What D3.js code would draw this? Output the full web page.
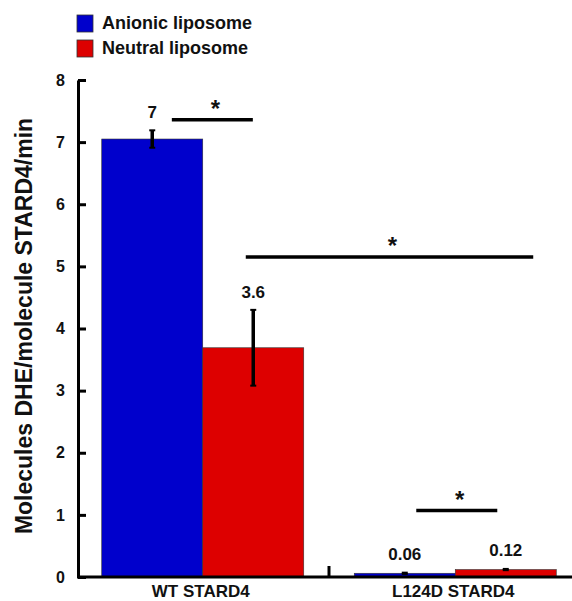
<!DOCTYPE html>
<html>
<head>
<meta charset="utf-8">
<script src="https://cdnjs.cloudflare.com/ajax/libs/d3/7.8.5/d3.min.js"></script>
<style>
  body { margin: 0; background: #fff; }
  svg { display: block; font-family: "Liberation Sans", Arial, sans-serif; font-weight: bold; }
</style>
</head>
<body>
<svg class="viz"></svg>
<script>
var width = 572,
  height = 601;

// data
var groups = ["WT STARD4", "L124D STARD4"];
var series = ["Anionic liposome", "Neutral liposome"];
var colors = ["#0000cc", "#dd0000"];
var means = [[7.05, 3.69], [0.06, 0.12]];
var errors = [[0.14, 0.61], [0.01, 0.01]];
var valueLabels = [["7", "3.6"], ["0.06", "0.12"]];
var yTicks = [0, 1, 2, 3, 4, 5, 6, 7, 8];

// significance brackets: group + fraction of group band for each end, height in data units
var sigBars = [
  { g1: 0, f1: 0.347, g2: 0, f2: 0.748, v: 7.36 },
  { g1: 0, f1: 0.713, g2: 1, f2: 0.886, v: 5.15 },
  { g1: 1, f1: 0.307, g2: 1, f2: 0.708, v: 1.07 }
];

var viz = d3.select(".viz")
  .attr("width", width)
  .attr("height", height);

var y = d3.scaleLinear().domain([0, 8]).range([577, 80]);

var x = d3.scaleBand()
  .domain(groups)
  .range([78, 580])
  .paddingInner(0.2)
  .paddingOuter(0.094);

var xs = d3.scaleBand()
  .domain(series)
  .range([0, x.bandwidth()]);

function xAt(g, f) {
  return x(groups[g]) + f * x.bandwidth();
}

// bars
var gGroups = viz.selectAll("g.group")
  .data(groups)
  .enter()
  .append("g")
  .attr("class", "group")
  .attr("transform", function(d) {
    return "translate(" + x(d) + ",0)";
  });

gGroups.each(function(gname, gi) {
  var grp = d3.select(this);
  var rows = series.map(function(s, si) {
    return { s: s, si: si, m: means[gi][si], e: errors[gi][si], lab: valueLabels[gi][si] };
  });

  grp.selectAll("rect")
    .data(rows)
    .enter()
    .append("rect")
    .attr("x", d => xs(d.s))
    .attr("width", xs.bandwidth())
    .attr("y", d => y(d.m))
    .attr("height", d => y(0) - y(d.m))
    .attr("fill", d => colors[d.si])
    .attr("stroke", "#333")
    .attr("stroke-width", 0.6);

  // error bars
  var eb = grp.selectAll("g.err")
    .data(rows)
    .enter()
    .append("g")
    .attr("class", "err")
    .attr("transform", d => "translate(" + (xs(d.s) + xs.bandwidth() / 2) + ",0)");
  eb.append("line")
    .attr("y1", d => y(d.m + d.e))
    .attr("y2", d => y(d.m - d.e))
    .attr("stroke", "#000")
    .attr("stroke-width", 3.5);
  eb.selectAll("line.cap")
    .data(d => [d.m + d.e, d.m - d.e])
    .enter()
    .append("line")
    .attr("class", "cap")
    .attr("x1", -3)
    .attr("x2", 3)
    .attr("y1", v => y(v))
    .attr("y2", v => y(v))
    .attr("stroke", "#000")
    .attr("stroke-width", 2);

  grp.selectAll("text.val")
    .data(rows)
    .enter()
    .append("text")
    .attr("class", "val")
    .attr("x", d => xs(d.s) + xs.bandwidth() / 2)
    .attr("y", d => y(d.m + d.e) - (d.m > 1 ? 12 : 13))
    .attr("text-anchor", "middle")
    .attr("font-size", 17)
    .attr("fill", "#111")
    .text(d => d.lab);
});

// significance lines
viz.selectAll("line.sig")
  .data(sigBars)
  .enter()
  .append("line")
  .attr("class", "sig")
  .attr("x1", d => xAt(d.g1, d.f1))
  .attr("x2", d => xAt(d.g2, d.f2))
  .attr("y1", d => y(d.v))
  .attr("y2", d => y(d.v))
  .attr("stroke", "#000")
  .attr("stroke-width", 3.5);

viz.selectAll("text.star")
  .data(sigBars)
  .enter()
  .append("text")
  .attr("class", "star")
  .attr("x", d => (xAt(d.g1, d.f1) + xAt(d.g2, d.f2)) / 2 + 3)
  .attr("y", d => y(d.v) - 3)
  .attr("text-anchor", "middle")
  .attr("font-size", 24)
  .attr("fill", "#111")
  .text("*");

// y axis
var yAxis = d3.axisLeft(y)
  .tickValues(yTicks)
  .tickFormat(d3.format("d"))
  .tickSizeInner(-8)
  .tickSizeOuter(0)
  .tickPadding(13);

var yg = viz.append("g")
  .attr("transform", "translate(78,0)")
  .call(yAxis);
yg.attr("font-size", null).attr("font-family", null);
yg.select(".domain").attr("stroke-width", 3).attr("stroke", "#000");
yg.selectAll(".tick line").attr("stroke-width", 3).attr("stroke", "#000");
yg.selectAll(".tick text")
  .style("font-size", "16px")
  .style("font-weight", "bold")
  .attr("fill", "#111");

// x axis
viz.append("line")
  .attr("x1", 77)
  .attr("x2", width)
  .attr("y1", y(0))
  .attr("y2", y(0))
  .attr("stroke", "#000")
  .attr("stroke-width", 3);

// tick between the two groups
var mid = (x(groups[0]) + x.bandwidth() + x(groups[1])) / 2;
viz.append("line")
  .attr("x1", mid)
  .attr("x2", mid)
  .attr("y1", y(0))
  .attr("y2", y(0) - 11)
  .attr("stroke", "#000")
  .attr("stroke-width", 3);

viz.selectAll("text.xlab")
  .data(groups)
  .enter()
  .append("text")
  .attr("class", "xlab")
  .attr("x", d => x(d) + x.bandwidth() / 2 - 2)
  .attr("y", 597)
  .attr("text-anchor", "middle")
  .attr("font-size", 17)
  .attr("fill", "#111")
  .text(d => d);

// y title
viz.append("text")
  .attr("transform", "translate(32,326) rotate(-90)")
  .attr("text-anchor", "middle")
  .attr("font-size", 23)
  .attr("fill", "#111")
  .text("Molecules DHE/molecule STARD4/min");

// legend
var legend = viz.selectAll("g.legend")
  .data(series)
  .enter()
  .append("g")
  .attr("class", "legend")
  .attr("transform", (d, i) => "translate(77," + (15 + i * 25) + ")");
legend.append("rect")
  .attr("width", 16)
  .attr("height", 17)
  .attr("fill", (d, i) => colors[i])
  .attr("stroke", "#333")
  .attr("stroke-width", 0.8);
legend.append("text")
  .attr("x", 25)
  .attr("y", 14)
  .attr("font-size", 18)
  .attr("fill", "#111")
  .text(d => d);
</script>
</body>
</html>
